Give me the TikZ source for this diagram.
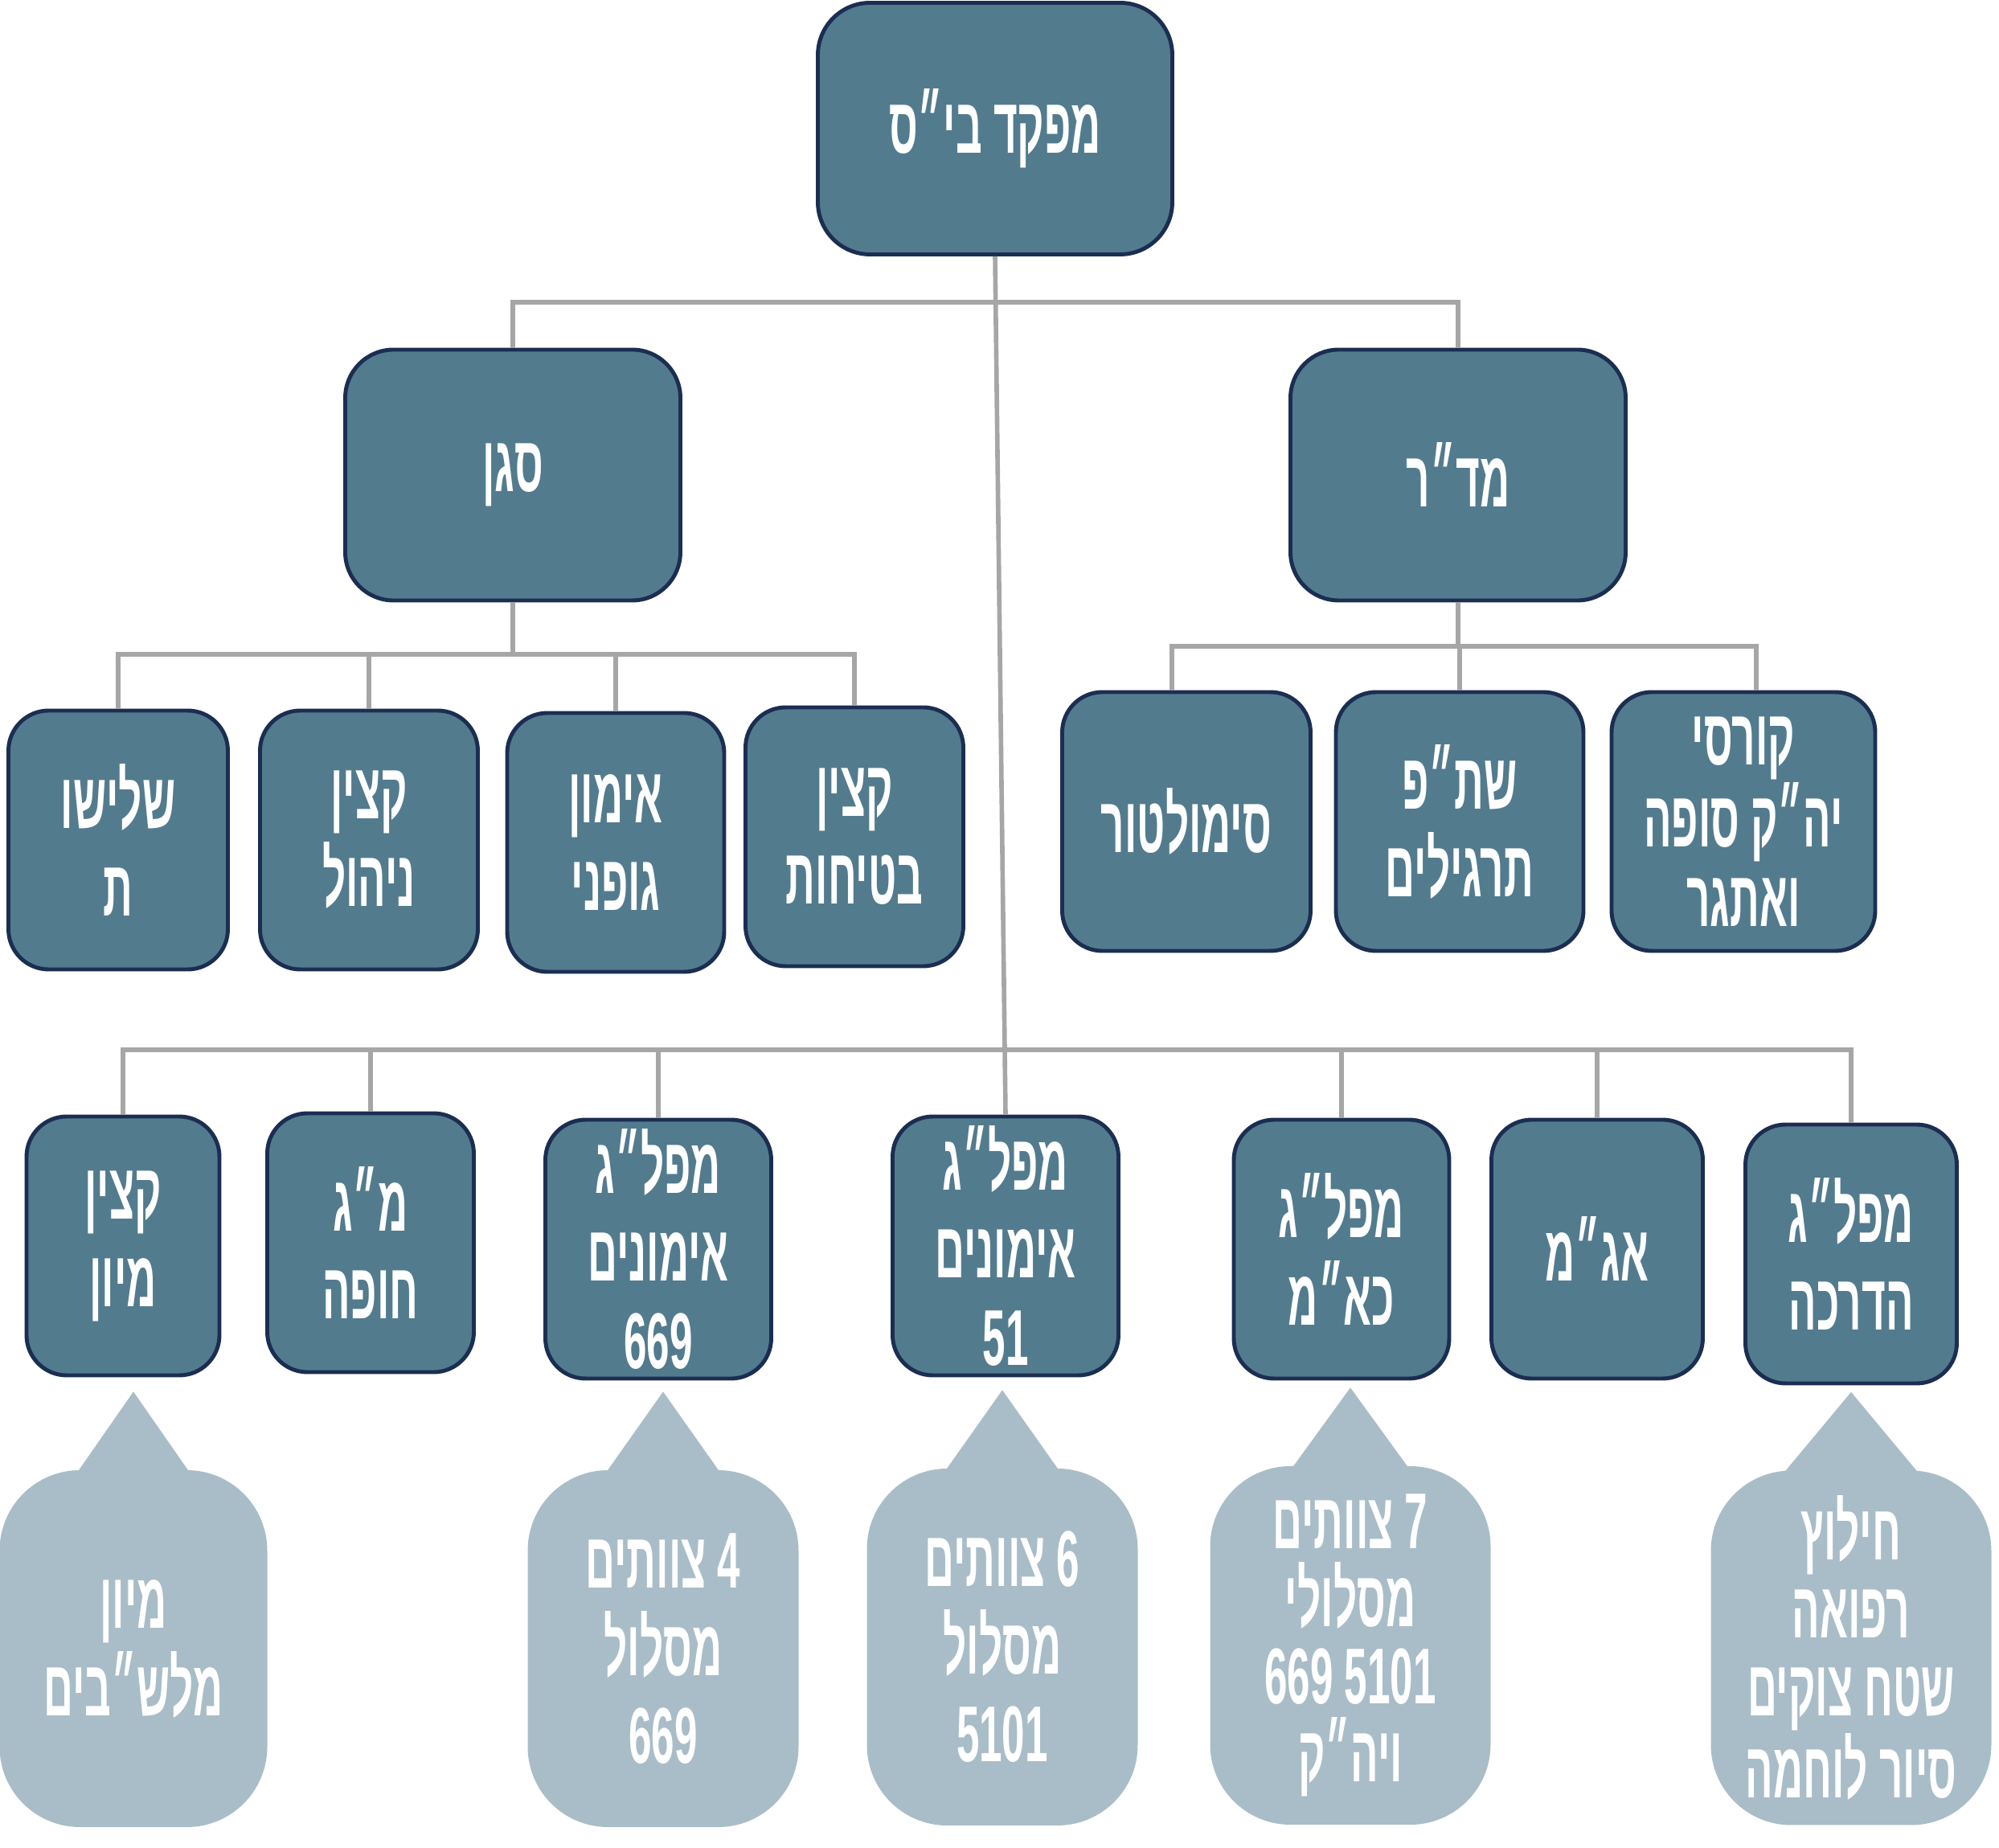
\documentclass[tikz,border=0pt]{standalone}
\usepackage{fontspec}
\usetikzlibrary{calc}
\newfontfamily\hebfont[Script=Hebrew,FakeStretch=0.52]{Liberation Sans}
\TeXXeTstate=1
\newcommand{\hebline}[1]{\beginR #1\endR}
\definecolor{boxblue}{HTML}{537B8E}
\definecolor{boxline}{HTML}{1B2E52}
\definecolor{notefill}{HTML}{A9BDC8}
\definecolor{linkgray}{HTML}{A6A6A6}

\begin{document}
\begin{tikzpicture}[
    unit/.style={draw=boxline, line width=1.4pt, fill=boxblue, rounded corners=0.5cm,
        text=white, align=center, inner sep=0pt, minimum height=3.22cm,
        font=\hebfont\bfseries\fontsize{28}{31}\selectfont},
    note/.style={fill=notefill, rounded corners=1cm, text=white, align=center,
        inner sep=0pt, minimum height=4.44cm,
        font=\hebfont\bfseries\fontsize{28}{31}\selectfont},
    link/.style={draw=linkgray, line width=1.6pt}
]
\useasboundingbox (0,0) rectangle (24.87,-22.99);

% head and deputies
\node[unit, minimum width=4.41cm, minimum height=3.13cm, rounded corners=0.65cm] (head) at (12.38,-1.60) {\hebline{מפקד בי״ס}};
\node[unit, minimum width=4.17cm, minimum height=3.12cm, rounded corners=0.6cm] (sgan) at (6.38,-5.91) {\hebline{סגן}};
\node[unit, minimum width=4.17cm, minimum height=3.12cm, rounded corners=0.6cm] (madar) at (18.14,-5.91) {\hebline{מד״ר}};

% under sgan
\node[unit, minimum width=2.73cm] (shalishut) at (1.47,-10.45) {\hebline{שלישו}\\\hebline{ת}};
\node[unit, minimum width=2.71cm] (nihul) at (4.59,-10.45) {\hebline{קצין}\\\hebline{ניהול}};
\node[unit, minimum width=2.70cm] (gufani) at (7.66,-10.48) {\hebline{אימון}\\\hebline{גופני}};
\node[unit, minimum width=2.71cm] (betihut) at (10.63,-10.41) {\hebline{קצין}\\\hebline{בטיחות}};

% under madar
\node[unit, minimum width=3.09cm] (simulator) at (14.76,-10.22) {\hebline{סימולטור}};
\node[unit, minimum width=3.08cm] (shatap) at (18.16,-10.22) {\hebline{שת״פ}\\\hebline{תרגילים}};
\node[unit, minimum width=3.28cm, font=\hebfont\bfseries\fontsize{28}{28}\selectfont] (kursim) at (21.69,-10.22) {\hebline{קורסי}\\\hebline{יה״ק סופה}\\\hebline{ואתגר}};

% bottom row
\node[unit, minimum width=2.40cm] (miyun) at (1.53,-15.50) {\hebline{קצין}\\\hebline{מיון}};
\node[unit, minimum width=2.57cm] (mag) at (4.61,-15.46) {\hebline{מ״ג}\\\hebline{חופה}};
\node[unit, minimum width=2.81cm] (mefalgA) at (8.19,-15.54) {\hebline{מפל״ג}\\\hebline{אימונים}\\669};
\node[unit, minimum width=2.81cm] (mefalgB) at (12.51,-15.50) {\hebline{מפל״ג}\\\hebline{אימונים}\\51};
\node[unit, minimum width=2.68cm] (kaam) at (16.69,-15.54) {\hebline{מפל״ג}\\\hebline{כא״מ}};
\node[unit, minimum width=2.63cm] (agam) at (19.87,-15.54) {\hebline{אג״מ}};
\node[unit, minimum width=2.63cm] (hadracha) at (23.03,-15.60) {\hebline{מפל״ג}\\\hebline{הדרכה}};

% callouts
\node[note, minimum width=3.33cm] (nmiyun) at (1.66,-20.51) {\hebline{מיון}\\\hebline{מלש״בים}};
\node[note, minimum width=3.37cm] (nA) at (8.25,-20.51) {\hebline{4 צוותים}\\\hebline{מסלול}\\669};
\node[note, minimum width=3.37cm] (nB) at (12.47,-20.49) {\hebline{6 צוותים}\\\hebline{מסלול}\\5101};
\node[note, minimum width=3.49cm, minimum height=4.46cm, font=\hebfont\bfseries\fontsize{28}{27.5}\selectfont] (nkaam) at (16.80,-20.47) {\hebline{7 צוותים}\\\hebline{מסלולי}\\669 5101\\\hebline{ויה״ק}};
\node[note, minimum width=3.49cm, minimum height=4.41cm, font=\hebfont\bfseries\fontsize{28}{27.5}\selectfont] (nhad) at (23.03,-20.50) {\hebline{חילוץ}\\\hebline{רפואה}\\\hebline{שטח צוקים}\\\hebline{סיור לוחמה}};
\foreach \n/\w in {nmiyun/0.71, nA/0.72, nB/0.72, nkaam/0.74, nhad/0.85}
    \fill[notefill] ($(\n.north)+(-\w,-0.05)$) -- ++(\w,1.02) -- ($(\n.north)+(\w,-0.05)$) -- cycle;

% connectors
\coordinate (topbar) at (12.39,-3.76);
\coordinate (sganbar) at (6.38,-8.14);
\coordinate (madarbar) at (18.14,-8.04);
\coordinate (lowbar) at (12.50,-13.06);
\draw[link] (head.south) -- (mefalgB.north);
\draw[link] (sgan.north) |- (topbar) -| (madar.north);
\draw[link] (sgan.south) -- (sganbar);
\foreach \c in {shalishut, nihul, gufani, betihut}
    \draw[link] (\c.north) |- (sganbar);
\draw[link] (madar.south) -- (madarbar);
\draw[link] ($(simulator.north)+(-0.18,0)$) |- (madarbar);
\draw[link] (shatap.north) |- (madarbar);
\draw[link] ($(kursim.north)+(0.16,0)$) |- (madarbar);
\foreach \c in {miyun, mag, mefalgA, kaam, agam, hadracha}
    \draw[link] (\c.north) |- (lowbar);
\end{tikzpicture}
\end{document}
